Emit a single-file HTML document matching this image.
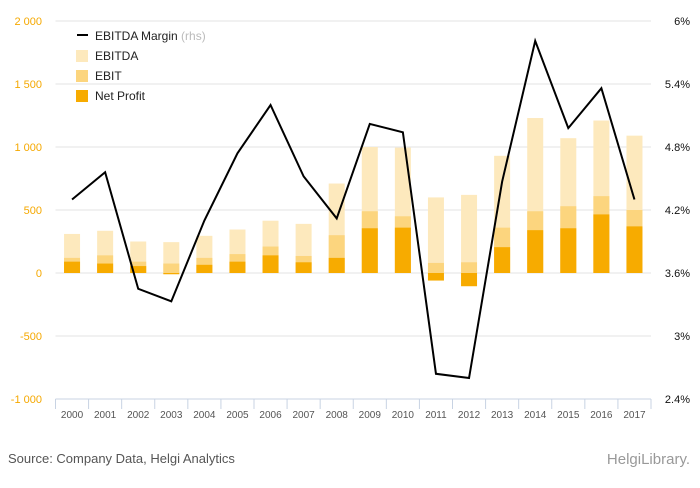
<!DOCTYPE html>
<html><head><meta charset="utf-8"><style>
body{margin:0;background:#fff;font-family:"Liberation Sans",sans-serif;}
svg text{font-family:"Liberation Sans",sans-serif;}
</style></head><body>
<svg id="chart" width="700" height="483" xmlns="http://www.w3.org/2000/svg">
<g id="grid"></g><g id="bars"></g><g id="line"></g><g id="axes"></g>
<g id="legend">
 <line x1="77" y1="35" x2="88" y2="35" stroke="#000" stroke-width="2"/>
 <text x="95" y="40" font-size="12" fill="#222">EBITDA Margin <tspan fill="#bbb">(rhs)</tspan></text>
 <rect x="76" y="50" width="12" height="12" fill="#fde9bd"/>
 <text x="95" y="60" font-size="12" fill="#222">EBITDA</text>
 <rect x="76" y="70" width="12" height="12" fill="#fcd57e"/>
 <text x="95" y="80" font-size="12" fill="#222">EBIT</text>
 <rect x="76" y="90" width="12" height="12" fill="#f7ab00"/>
 <text x="95" y="100" font-size="12" fill="#222">Net Profit</text>
</g>
<text x="8" y="463" font-size="13" fill="#555">Source: Company Data, Helgi Analytics</text>
<text x="690" y="464" font-size="15" fill="#999" text-anchor="end">HelgiLibrary.</text>
</svg>
<script>
const years=["2000","2001","2002","2003","2004","2005","2006","2007","2008","2009","2010","2011","2012","2013","2014","2015","2016","2017"];
const ebitda=[310,335,250,245,295,345,415,390,710,1000,995,600,620,930,1230,1070,1210,1090];
const ebit=[120,140,90,75,120,150,210,135,300,490,450,80,85,360,490,530,610,500];
const netProfit=[90,75,55,-10,65,90,140,85,120,355,360,-60,-105,205,340,355,465,370];
const margin=[4.3,4.56,3.45,3.33,4.1,4.74,5.2,4.52,4.12,5.02,4.94,2.64,2.6,4.47,5.81,4.98,5.36,4.3];
const leftTicks=[2000,1500,1000,500,0,-500,-1000];
const leftLabels=["2 000","1 500","1 000","500","0","-500","-1 000"];
const rightTicks=[6,5.4,4.8,4.2,3.6,3,2.4];
const rightLabels=["6%","5.4%","4.8%","4.2%","3.6%","3%","2.4%"];
const NS="http://www.w3.org/2000/svg";
const x0=55.5,x1=651,yTop=21,yBot=399;
const band=(x1-x0)/years.length;
const xC=i=>x0+band*(i+0.5);
const yL=v=>yTop+(2000-v)/3000*(yBot-yTop);
const yR=v=>yTop+(6-v)/3.6*(yBot-yTop);
function mk(tag,attrs,parent){const e=document.createElementNS(NS,tag);for(const k in attrs)e.setAttribute(k,attrs[k]);document.getElementById(parent).appendChild(e);return e;}
leftTicks.forEach((t,i)=>{
 const g=mk("line",{x1:x0,x2:x1,y1:yL(t),y2:yL(t),stroke:"#e3e3e3","stroke-width":1},"grid");
 
 
 const l=mk("text",{x:42,y:yL(t)+4,"font-size":11,fill:"#f5a800","text-anchor":"end"},"axes");
 l.textContent=leftLabels[i];
 
 
});
rightTicks.forEach((t,i)=>{
 const l=mk("text",{x:690,y:yR(t)+4,"font-size":11,fill:"#111","text-anchor":"end"},"axes");
 l.textContent=rightLabels[i];
 
 
});
const ax=mk("line",{x1:x0,x2:x1,y1:yBot,y2:yBot,stroke:"#c8d3e3"},"axes");


for(let i=0;i<=years.length;i++){
 const tk=mk("line",{x1:x0+band*i,x2:x0+band*i,y1:yBot,y2:yBot+10,stroke:"#c8d3e3"},"axes");
 
 
}
const bw=16;
function bar(v,fill,name,i){
 const y=Math.min(yL(v),yL(0)),h=Math.abs(yL(v)-yL(0));
 const r=mk("rect",{x:xC(i)-bw/2,y:y,width:bw,height:h,fill:fill},"bars");
 
 
}
years.forEach((yr,i)=>{
 bar(ebitda[i],"#fde9bd","bar-ebitda-"+yr,i);
 bar(ebit[i],"#fcd57e","bar-ebit-"+yr,i);
 bar(netProfit[i],"#f7ab00","bar-net-profit-"+yr,i);
 const l=mk("text",{x:xC(i),y:418,"font-size":10,fill:"#555","text-anchor":"middle"},"axes");
 l.textContent=yr;
 
 
});
const p=mk("polyline",{points:margin.map((m,i)=>xC(i)+","+yR(m)).join(" "),fill:"none",stroke:"#000","stroke-width":2},"line");


</script>
</body></html>
